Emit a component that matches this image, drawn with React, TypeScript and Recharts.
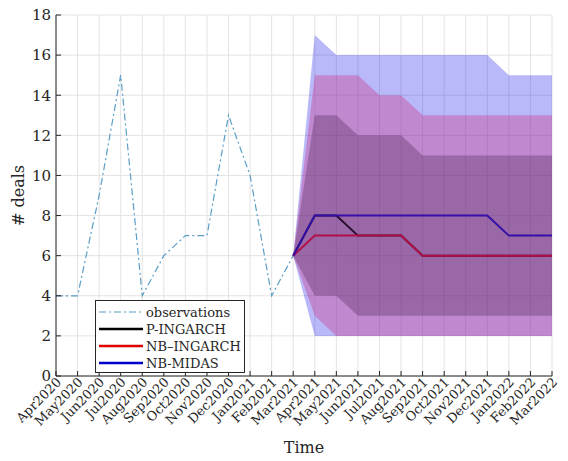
import React from "react";
import {
  ComposedChart,
  Area,
  Line,
  XAxis,
  YAxis,
  CartesianGrid,
  Label,
} from "recharts";

const months = [
  "Apr2020", "May2020", "Jun2020", "Jul2020", "Aug2020", "Sep2020",
  "Oct2020", "Nov2020", "Dec2020", "Jan2021", "Feb2021", "Mar2021",
  "Apr2021", "May2021", "Jun2021", "Jul2021", "Aug2021", "Sep2021",
  "Oct2021", "Nov2021", "Dec2021", "Jan2022", "Feb2022", "Mar2022",
];

// observed deals, Apr2020..Mar2021
const observations = [4, 4, 9, 15, 4, 6, 7, 7, 13, 10, 4, 6];

// forecasts, Mar2021..Mar2022
const pIngarch = [6, 8, 8, 7, 7, 7, 6, 6, 6, 6, 6, 6, 6];
const nbIngarch = [6, 7, 7, 7, 7, 7, 6, 6, 6, 6, 6, 6, 6];
const nbMidas = [6, 8, 8, 8, 8, 8, 8, 8, 8, 8, 7, 7, 7];

// prediction bands
const midasHi = [6, 17, 16, 16, 16, 16, 16, 16, 16, 16, 15, 15, 15];
const midasLo = [6, 2, 2, 2, 2, 2, 2, 2, 2, 2, 2, 2, 2];
const nbIngHi = [6, 15, 15, 15, 14, 14, 13, 13, 13, 13, 13, 13, 13];
const nbIngLo = [6, 3, 2, 2, 2, 2, 2, 2, 2, 2, 2, 2, 2];
const pIngHi = [6, 13, 13, 12, 12, 12, 11, 11, 11, 11, 11, 11, 11];
const pIngLo = [6, 4, 4, 3, 3, 3, 3, 3, 3, 3, 3, 3, 3];

const yTicks = [0, 2, 4, 6, 8, 10, 12, 14, 16, 18];

const FC_START = observations.length - 1;
const data = months.map((m, i) => {
  const k = i - FC_START;
  const f = (arr: number[]) => (k >= 0 ? arr[k] : null);
  return {
    x: i,
    month: m,
    obs: i < observations.length ? observations[i] : null,
    p: f(pIngarch),
    nb: f(nbIngarch),
    midas: f(nbMidas),
    midasBand: k >= 0 ? [midasLo[k], midasHi[k]] : null,
    nbBand: k >= 0 ? [nbIngLo[k], nbIngHi[k]] : null,
    pBand: k >= 0 ? [pIngLo[k], pIngHi[k]] : null,
  };
});

const FONT = "DejaVu Serif";
const AXIS = "#262626";

const XTick = ({ x, y, payload }: any) => (
  <g transform={`translate(${x + 6},${y + 4})`}>
    <text
      x={0}
      y={0}
      textAnchor="end"
      transform="rotate(-45)"
      fontSize={13}
      fontFamily={FONT}
      fill={AXIS}
    >
      {months[payload.value]}
    </text>
  </g>
);

const legendItems = [
  { label: "observations", color: "#5a9ec8", dash: "7 3 2 3", width: 1.2 },
  { label: "P-INGARCH", color: "#000000", dash: undefined, width: 2.4 },
  { label: "NB\u2013INGARCH", color: "#e00000", dash: undefined, width: 2.4 },
  { label: "NB-MIDAS", color: "#0000c8", dash: undefined, width: 2.4 },
];

export default function App() {
  return (
    <div style={{ position: "absolute", left: 0, top: 0, width: 568, height: 461, background: "#fff" }}>
      <ComposedChart
        width={568}
        height={461}
        data={data}
        margin={{ top: 15, right: 16, left: 0, bottom: 0 }}
      >
        <CartesianGrid stroke="#e3e3e3" />
        <Area
          dataKey="midasBand"
          fill="#1616ee"
          fillOpacity={0.3}
          stroke="none"
          isAnimationActive={false}
        />
        <Area
          dataKey="nbBand"
          fill="#d01c6e"
          fillOpacity={0.3}
          stroke="none"
          isAnimationActive={false}
        />
        <Area
          dataKey="pBand"
          fill="#41194b"
          fillOpacity={0.3}
          stroke="none"
          isAnimationActive={false}
        />
        <XAxis
          dataKey="x"
          type="number"
          domain={[0, 23]}
          ticks={months.map((_, i) => i)}
          interval={0}
          height={85}
          tickSize={-5}
          tickMargin={8}
          stroke={AXIS}
          tick={<XTick />}
        >
          <Label
            value="Time"
            position="insideBottom"
            offset={8}
            style={{ fontFamily: FONT, fontSize: 16, fill: AXIS }}
          />
        </XAxis>
        <XAxis
          xAxisId="top"
          orientation="top"
          dataKey="x"
          type="number"
          domain={[0, 23]}
          ticks={months.map((_, i) => i)}
          interval={0}
          height={0}
          tickSize={-5}
          tick={false}
          stroke={AXIS}
        />
        <YAxis
          type="number"
          domain={[0, 18]}
          ticks={yTicks}
          interval={0}
          width={56}
          tickSize={-5}
          tickMargin={10}
          stroke={AXIS}
          tick={{ fontFamily: FONT, fontSize: 15, fill: AXIS }}
        >
          <Label
            value="# deals"
            angle={-90}
            position="insideLeft"
            offset={18}
            style={{ fontFamily: FONT, fontSize: 16, fill: AXIS, textAnchor: "middle" }}
          />
        </YAxis>
        <YAxis
          yAxisId="right"
          orientation="right"
          type="number"
          domain={[0, 18]}
          ticks={yTicks}
          interval={0}
          width={0}
          tickSize={-5}
          tick={false}
          stroke={AXIS}
        />
        <Line
          dataKey="obs"
          stroke="#5a9ec8"
          strokeWidth={1.2}
          strokeDasharray="7 3 2 3"
          dot={false}
          isAnimationActive={false}
        />
        <Line
          dataKey="p"
          stroke="#2a0c30"
          strokeWidth={2}
          dot={false}
          isAnimationActive={false}
        />
        <Line
          dataKey="nb"
          stroke="#b01048"
          strokeWidth={2}
          dot={false}
          isAnimationActive={false}
        />
        <Line
          dataKey="midas"
          stroke="#3410a8"
          strokeWidth={2}
          dot={false}
          isAnimationActive={false}
        />
      </ComposedChart>
      <svg
        width={150}
        height={73}
        style={{ position: "absolute", left: 95, top: 300 }}
      >
        <rect x={0.5} y={0.5} width={149} height={72} fill="#fff" stroke={AXIS} />
        {legendItems.map((it, i) => (
          <g key={it.label}>
            <line
              x1={4}
              x2={48}
              y1={12 + i * 17}
              y2={12 + i * 17}
              stroke={it.color}
              strokeWidth={it.width}
              strokeDasharray={it.dash}
            />
            <text
              x={51}
              y={16.5 + i * 17}
              fontFamily={FONT}
              fontSize={13}
              fill={AXIS}
            >
              {it.label}
            </text>
          </g>
        ))}
      </svg>
    </div>
  );
}
